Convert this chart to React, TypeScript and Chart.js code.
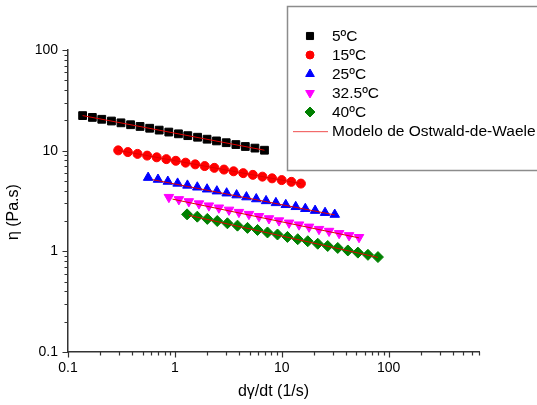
import React, { useEffect, useRef } from 'react';
import { Chart, registerables } from 'chart.js';
import { drawPoint } from 'chart.js/helpers';

Chart.register(...registerables);

// ---- data ----
const seriesLabels = ['5ºC', '15ºC', '25ºC', '32.5ºC', '40ºC'];
const modelLabel = 'Modelo de Ostwald-de-Waele';

const rate5 = [0.137, 0.169, 0.207, 0.255, 0.313, 0.385, 0.472, 0.581, 0.713, 0.877, 1.08, 1.32, 1.63, 2.0, 2.45, 3.02, 3.72, 4.56, 5.61, 6.89];
const eta5 = [22.3, 21.4, 20.5, 19.7, 18.9, 18.1, 17.4, 16.7, 16.0, 15.3, 14.7, 14.1, 13.6, 13.0, 12.5, 12.0, 11.5, 11.0, 10.6, 10.1];

const rate15 = [0.295, 0.363, 0.447, 0.55, 0.676, 0.832, 1.02, 1.26, 1.55, 1.9, 2.34, 2.88, 3.54, 4.36, 5.36, 6.59, 8.11, 9.98, 12.3, 15.1];
const eta15 = [10.07, 9.68, 9.29, 8.93, 8.59, 8.24, 7.93, 7.6, 7.31, 7.03, 6.75, 6.49, 6.24, 5.98, 5.75, 5.52, 5.31, 5.1, 4.9, 4.71];

const rate25 = [0.562, 0.695, 0.859, 1.06, 1.31, 1.62, 2.0, 2.47, 3.05, 3.78, 4.67, 5.77, 7.13, 8.81, 10.9, 13.5, 16.6, 20.5, 25.4, 31.3];
const eta25 = [5.4, 5.17, 4.94, 4.73, 4.52, 4.33, 4.14, 3.96, 3.78, 3.62, 3.46, 3.31, 3.17, 3.03, 2.9, 2.77, 2.65, 2.54, 2.42, 2.32];

const rate325 = [0.879, 1.09, 1.35, 1.68, 2.08, 2.58, 3.21, 3.97, 4.93, 6.12, 7.59, 9.42, 11.7, 14.5, 18.0, 22.3, 27.7, 34.4, 42.6, 52.8];
const eta325 = [3.45, 3.28, 3.13, 2.98, 2.84, 2.71, 2.58, 2.45, 2.34, 2.23, 2.12, 2.02, 1.92, 1.84, 1.75, 1.66, 1.59, 1.51, 1.44, 1.38];

const rate40 = [1.3, 1.62, 2.01, 2.49, 3.1, 3.85, 4.78, 5.93, 7.35, 9.12, 11.3, 14.1, 17.5, 21.7, 26.9, 33.4, 41.5, 51.5, 64.0, 79.4];
const eta40 = [2.33, 2.21, 2.1, 2.0, 1.9, 1.8, 1.71, 1.63, 1.54, 1.47, 1.39, 1.32, 1.26, 1.19, 1.13, 1.08, 1.02, 0.971, 0.923, 0.877];

// Ostwald-de-Waele fit lines (end points of each straight log-log line)
const fit5Rate = [0.137, 6.89];
const fit5Eta = [22.3, 10.1];
const fit15Rate = [0.295, 15.1];
const fit15Eta = [10.07, 4.71];
const fit25Rate = [0.62, 31.3];
const fit25Eta = [5.15, 2.3];
const fit325Rate = [0.95, 52.8];
const fit325Eta = [3.3, 1.36];
const fit40Rate = [1.35, 79.4];
const fit40Eta = [2.28, 0.87];

// ticks
const xMajorTicks = [0.1, 1, 10, 100];
const xMinorTicks = [0.2, 0.3, 0.4, 0.5, 0.6, 0.7, 0.8, 0.9, 2, 3, 4, 5, 6, 7, 8, 9, 20, 30, 40, 50, 60, 70, 80, 90, 200, 300, 400, 500, 600, 700];
const yMajorTicks = [0.1, 1, 10, 100];
const yMinorTicks = [0.2, 0.3, 0.4, 0.5, 0.6, 0.7, 0.8, 0.9, 2, 3, 4, 5, 6, 7, 8, 9, 20, 30, 40, 50, 60, 70, 80, 90];

const xTitle = 'dγ/dt (1/s)';
const yTitle = 'η (Pa.s)';

// styles
const FONT = '"Liberation Sans", Arial, Helvetica, sans-serif';
const colors = ['#000000', '#ff0000', '#0000ff', '#ff00ff', '#008000'];
const pointStyles = ['rect', 'circle', 'triangle', 'triangle', 'rectRot'];
const rotations = [0, 0, 0, 180, 0];
const radii = [5.5, 4.5, 5.5, 5.5, 5.5];
const fitColor = '#e00000';

const isIn = (arr: number[], v: number) => arr.some((a) => Math.abs(a - v) < 1e-9 * Math.max(1, a));

const tickPlugin = {
  id: 'axisTicks',
  afterDraw(chart: any) {
    const { ctx, chartArea, scales } = chart;
    ctx.save();
    ctx.strokeStyle = '#333333';
    ctx.lineWidth = 1.2;
    ctx.beginPath();
    for (const v of [...xMajorTicks, ...xMinorTicks]) {
      const px = Math.round(scales.x.getPixelForValue(v)) + 0.5;
      const len = isIn(xMajorTicks, v) ? 5.5 : 3.5;
      ctx.moveTo(px, chartArea.bottom);
      ctx.lineTo(px, chartArea.bottom + len);
    }
    for (const v of [...yMajorTicks, ...yMinorTicks]) {
      const py = Math.round(scales.y.getPixelForValue(v)) + 0.5;
      const len = isIn(yMajorTicks, v) ? 5.5 : 3.5;
      ctx.moveTo(chartArea.left, py);
      ctx.lineTo(chartArea.left - len, py);
    }
    ctx.stroke();
    ctx.restore();
  },
};

const legendPlugin = {
  id: 'boxLegend',
  afterDraw(chart: any) {
    const { ctx } = chart;
    ctx.save();
    const boxX = 287.5;
    const boxY = 6.5;
    const boxW = 270;
    const boxH = 164;
    ctx.strokeStyle = '#8c8c8c';
    ctx.lineWidth = 1.5;
    ctx.strokeRect(boxX, boxY, boxW, boxH);
    const markerX = 310;
    const textX = 332;
    const rowY = [36, 55, 74, 93, 112, 131];
    ctx.font = `15.5px ${FONT}`;
    ctx.textBaseline = 'middle';
    ctx.textAlign = 'left';
    for (let i = 0; i < seriesLabels.length; i++) {
      ctx.fillStyle = colors[i];
      ctx.strokeStyle = colors[i];
      ctx.lineWidth = 1;
      drawPoint(ctx, { pointStyle: pointStyles[i], rotation: rotations[i], radius: radii[i] - 0.5, borderWidth: 1 } as any, markerX, rowY[i]);
      ctx.fillStyle = '#000';
      ctx.fillText(seriesLabels[i], textX, rowY[i] + 1);
    }
    ctx.fillStyle = '#f26b6b';
    ctx.fillRect(293, rowY[5], 35, 1.2);
    ctx.fillStyle = '#000';
    ctx.fillText(modelLabel, textX, rowY[5] + 1);
    ctx.restore();
  },
};

export default function App() {
  const canvasRef = useRef<HTMLCanvasElement | null>(null);

  useEffect(() => {
    if (!canvasRef.current) return;
    Chart.defaults.font.family = FONT;

    const rates = [rate5, rate15, rate25, rate325, rate40];
    const etas = [eta5, eta15, eta25, eta325, eta40];
    const fitRates = [fit5Rate, fit15Rate, fit25Rate, fit325Rate, fit40Rate];
    const fitEtas = [fit5Eta, fit15Eta, fit25Eta, fit325Eta, fit40Eta];

    const pointSets = rates.map((r, i) => ({
      label: seriesLabels[i],
      data: r.map((x, j) => ({ x, y: etas[i][j] })),
      showLine: false,
      pointStyle: pointStyles[i],
      rotation: rotations[i],
      pointRadius: radii[i],
      pointBackgroundColor: colors[i],
      pointBorderColor: colors[i],
      pointBorderWidth: 1,
      backgroundColor: colors[i],
      borderColor: colors[i],
      order: 2,
    }));
    const fitSets = fitRates.map((r, i) => ({
      label: modelLabel,
      data: r.map((x, j) => ({ x, y: fitEtas[i][j] })),
      showLine: true,
      pointRadius: 0,
      borderColor: fitColor,
      borderWidth: 1,
      backgroundColor: fitColor,
      order: 1,
    }));

    const chart = new Chart(canvasRef.current, {
      type: 'scatter',
      data: { datasets: [...pointSets, ...fitSets] as any },
      options: {
        animation: false,
        responsive: false,
        maintainAspectRatio: false,
        layout: { padding: { top: 50, right: 58, left: 0, bottom: 0 } },
        plugins: { legend: { display: false }, tooltip: { enabled: false } },
        scales: {
          x: {
            type: 'logarithmic',
            position: 'bottom',
            min: 0.1,
            max: 700,
            afterFit: (s: any) => {
              s.height = 53;
            },
            afterBuildTicks: (s: any) => {
              s.ticks = [...xMajorTicks, ...xMinorTicks].sort((a, b) => a - b).map((v) => ({ value: v, major: isIn(xMajorTicks, v) }));
            },
            ticks: {
              autoSkip: false,
              maxRotation: 0,
              minRotation: 0,
              padding: 8,
              color: '#000',
              font: { size: 14, family: FONT },
              callback: (v: any) => (isIn(xMajorTicks, Number(v)) ? String(Number(v)) : ''),
            },
            grid: { display: false, drawTicks: false },
            border: { display: true, color: '#333333', width: 1.5 },
            title: { display: true, text: xTitle, color: '#000', font: { size: 16, family: FONT }, padding: { top: 0, bottom: 3.4 } },
          },
          y: {
            type: 'logarithmic',
            position: 'left',
            min: 0.1,
            max: 100,
            afterFit: (s: any) => {
              s.width = 68;
            },
            afterBuildTicks: (s: any) => {
              s.ticks = [...yMajorTicks, ...yMinorTicks].sort((a, b) => a - b).map((v) => ({ value: v, major: isIn(yMajorTicks, v) }));
            },
            ticks: {
              autoSkip: false,
              padding: 10,
              color: '#000',
              font: { size: 14, family: FONT },
              callback: (v: any) => (isIn(yMajorTicks, Number(v)) ? String(Number(v)) : ''),
            },
            grid: { display: false, drawTicks: false },
            border: { display: true, color: '#333333', width: 1.5 },
            title: { display: true, text: yTitle + '     ', color: '#000', font: { size: 16, family: FONT }, padding: { top: 4.4, bottom: 0 } },
          },
        },
      },
      plugins: [tickPlugin, legendPlugin],
    });
    return () => chart.destroy();
  }, []);

  return (
    <div style={{ position: 'absolute', left: 0, top: 0, width: 537, height: 405, background: '#fff' }}>
      <canvas ref={canvasRef} width={537} height={405} style={{ display: 'block' }} />
    </div>
  );
}
